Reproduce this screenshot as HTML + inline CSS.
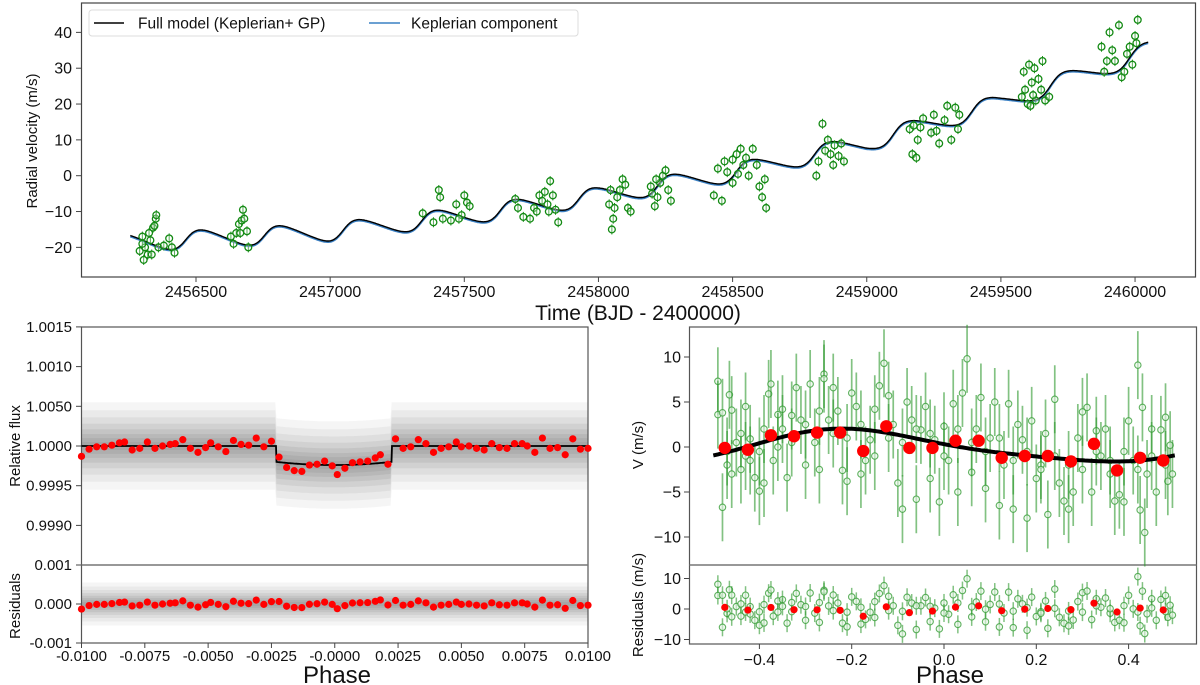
<!DOCTYPE html>
<html><head><meta charset="utf-8"><title>RV and transit fit</title>
<style>
html,body{margin:0;padding:0;background:#fff;}
svg{display:block;font-family:"Liberation Sans",Arial,sans-serif;}
</style></head>
<body>
<svg id="fig" width="1200" height="685" viewBox="0 0 1200 685" xmlns="http://www.w3.org/2000/svg">
<g id="topPanelG"></g>
<g id="blPanelG"></g>
<g id="brPanelG"></g>
</svg>
<script>
// ---------- TOP PANEL DATA ----------
const rvTimes=[2456290,2456300,2456305,2456310,2456320,2456330,2456335,2456340,2456350,2456352,2456360,2456380,2456400,2456410,2456420,2456300,2456345,2456325,
2456630,2456640,2456650,2456660,2456670,2456675,2456680,2456690,2456695,2456665,
2457345,2457385,2457405,2457410,2457420,2457450,2457470,2457490,2457500,2457510,2457520,2457480,
2457690,2457700,2457720,2457745,2457760,2457770,2457780,2457790,2457800,2457810,2457820,2457830,2457840,2457850,2457815,
2458050,2458055,2458060,2458070,2458080,2458090,2458100,2458110,2458120,2458040,2458045,
2458195,2458200,2458210,2458220,2458230,2458240,2458250,2458260,2458270,2458215,
2458430,2458445,2458460,2458470,2458480,2458500,2458515,2458530,2458540,2458550,2458560,2458575,2458590,2458600,2458610,2458620,2458625,2458500,2458520,
2458812,2458820,2458835,2458845,2458855,2458865,2458875,2458880,2458895,2458905,2458915,
2459160,2459170,2459175,2459185,2459190,2459200,2459210,2459240,2459250,2459260,2459270,2459290,2459300,2459315,2459330,2459340,2459345,
2459578,2459585,2459590,2459600,2459605,2459615,2459625,2459630,2459640,2459650,2459655,2459665,2459680,2459620,2459610,
2459875,2459885,2459895,2459905,2459915,2459925,2459940,2459950,2459960,2459970,2459980,2459990,2460000,2460010,2460005];
const rvValues=[-21,-17,-23.5,-20,-22,-18,-22,-14.5,-12,-11,-20,-19.5,-17.5,-20,-21.5,-19,-14,-16,
-17,-19,-16,-13.5,-12.5,-9.5,-12,-15.5,-20,-16,
-10.5,-13,-4,-6,-12,-12.5,-8,-11,-5.5,-7.5,-8.5,-12,
-6.5,-9,-11.5,-12,-9,-10,-5.5,-7,-4.5,-8,-1.5,-5.5,-9.5,-13,-10,
-15,-12,-9,-6,-4,-1,-2.5,-9,-10,-8,-4,
-3,-5,-8.5,-6,-2,0,1.5,-4,-7,-1,
-5.5,2,-7,4,1,-2,6,7.5,3,5,0,7.5,3,-3,-6,-1,-9,4.5,0.5,
0,4,14.5,7,10,6,3,8.5,5.5,9,4,
13,6,14,5,10,13.5,16,12,17,12.5,9,15.5,19.5,10,19,13,17,
22,29,24,20,31,26,30,21,27,24,32,21,22,22.5,19.5,
36,29,32,40,35,32,42,27.5,29,34,36,31,39,43.5,37];
const trendKnotT=[2456250,2456500,2457000,2457500,2458000,2458500,2459000,2459500,2460000,2460060];
const trendKnotV=[-19,-18,-16,-11.5,-6,0.5,9,20,33,35];
const kepPeriod=293, kepK=2.5, kepE=0.22, kepOmega=-Math.PI/2, kepT0=2456462;
const gpOffset=0.3;
const topYTicks=[-20,-10,0,10,20,30,40];
const topXTicks=[2456500,2457000,2457500,2458000,2458500,2459000,2459500,2460000];

// ---------- TRANSIT PANEL DATA ----------
const binPhase=[-0.0100,-0.0097,-0.0094,-0.0091,-0.0088,-0.0085,-0.0083,-0.0080,-0.0077,-0.0074,-0.0071,-0.0068,-0.0065,-0.0063,-0.0060,-0.0057,-0.0054,-0.0051,-0.0049,-0.0046,-0.0043,-0.0040,-0.0037,-0.0034,-0.0031,-0.0028,-0.0025,-0.0022,-0.0019,-0.0016,-0.0013,-0.0010,-0.0007,-0.0004,-0.0001,0.0001,0.0004,0.0007,0.0010,0.0013,0.0016,0.0018,0.0021,0.0024,0.0027,0.0030,0.0033,0.0036,0.0039,0.0042,0.0045,0.0048,0.0050,0.0053,0.0056,0.0059,0.0062,0.0065,0.0068,0.0071,0.0074,0.0076,0.0079,0.0082,0.0085,0.0088,0.0091,0.0094,0.0097,0.0100];
const binFlux=[0.99987,0.99996,0.99999,0.99999,1.00001,1.00004,1.00005,0.99995,0.99997,1.00005,0.99997,1.0,1.00002,1.00003,1.00008,0.99997,0.99992,0.99998,1.00004,0.99999,0.99993,1.00007,1.00002,1.00001,1.0001,0.99999,1.00006,0.99986,0.99973,0.99969,0.99968,0.99976,0.99977,0.99981,0.99975,0.99964,0.99972,0.99979,0.9998,0.99981,0.99985,0.99989,0.99977,1.00009,0.99997,0.99999,1.00008,1.00003,0.99992,0.99997,0.99999,1.00005,0.99999,1.0,0.99997,0.99995,1.00003,0.99998,0.99997,1.00003,1.00003,1.0,0.99992,1.0001,0.99997,0.99998,0.99989,1.00009,0.99996,0.99997];
const transitIngress=-0.00231, transitEgress=0.00224, transitEdgeFlux=0.9998, transitCenterFlux=0.99976;
const flYTicks=[1.0015,1.0010,1.0005,1.0000,0.9995,0.9990];
const flYLabels=["1.0015","1.0010","1.0050","1.0000","0.9995","0.9990"];
const flRTicks=[0.001,0.0,-0.001];
const flRLabels=["0.001","0.000","-0.001"];
const flXTicks=[-0.01,-0.0075,-0.005,-0.0025,0,0.0025,0.005,0.0075,0.01];
const flXLabels=["-0.0100","-0.0075","-0.0050","-0.0025","-0.0000","0.0025","0.0050","0.0075","0.0100"];

// ---------- PHASE RV PANEL DATA ----------
const phPhase=[-0.49,-0.49,-0.48,-0.48,-0.47,-0.465,-0.46,-0.46,-0.45,-0.44,-0.44,-0.43,-0.43,-0.42,-0.41,-0.40,-0.40,-0.39,-0.38,-0.375,-0.37,-0.36,-0.35,-0.35,-0.34,-0.33,-0.32,-0.31,-0.30,-0.29,-0.28,-0.27,-0.26,-0.26,-0.25,-0.24,-0.23,-0.22,-0.21,-0.20,-0.19,-0.18,-0.17,-0.16,-0.15,-0.14,-0.13,-0.12,-0.11,-0.10,-0.09,-0.08,-0.07,-0.06,-0.05,-0.04,-0.03,-0.02,-0.01,0.0,0.01,0.02,0.03,0.04,0.05,0.06,0.07,0.08,0.09,0.10,0.11,0.12,0.13,0.14,0.15,0.16,0.17,0.18,0.19,0.20,0.21,0.22,0.225,0.24,0.25,0.26,0.27,0.28,0.29,0.30,0.31,0.32,0.33,0.34,0.35,0.36,0.37,0.38,0.39,0.40,0.41,0.42,0.425,0.43,0.435,0.44,0.45,0.46,0.47,0.48,0.485,0.49,0.495,
-0.47,-0.42,-0.39,-0.36,-0.33,-0.30,-0.27,-0.24,-0.21,-0.18,-0.15,-0.12,-0.09,-0.06,-0.03,0.0,0.03,0.06,0.09,0.12,0.15,0.18,0.21,0.24,0.27,0.30,0.33,0.36,0.39,0.42,0.45,0.48];
const phV=[7.3,3.6,3.8,-6.7,-2,5.8,4.1,-3,0.5,-2.5,1.5,4.5,-1,0.9,-3.4,-4.9,-0.5,-4,5.9,7,-1.5,3.6,4.2,2,-3.4,0.5,6.6,3,-2,7,0.5,-2.5,8.1,7.6,3,6.6,4,-2.6,-3.8,6,4.5,-3,-1.5,0.8,4.2,6.8,9.3,5.7,2.5,-4,-6.9,5,3,-5.8,1.9,4.5,-3.5,0.8,-6.1,2.3,-1.5,4.8,-5,6,9.8,-2.8,2,5.5,-4.6,1,5,-6.5,-2,4.8,-6.9,2.5,0.8,-7.9,2.9,-3.5,-2,1.5,-7.5,5.3,-4,-6,-6.9,-5,1,3.9,4.4,-5,1.8,-1,2,-3,-6,-5.3,-6.1,2.9,-1.5,9.1,-7,4.4,-9.5,-3,2,-5,1.9,3.3,-3.8,0.2,-3,
-0.5,-1.5,2,0,3.5,2.5,4,1.5,1,2.5,-1,1,0.5,2,1.5,-1,2,0.5,-0.5,1,-1.5,-0.5,-2.5,-1,-2,-2.5,-0.5,-1.5,-0.5,-2.5,-1,-2];
const phBinPhase=[-0.475,-0.425,-0.375,-0.325,-0.275,-0.225,-0.175,-0.125,-0.075,-0.025,0.025,0.075,0.125,0.175,0.225,0.275,0.325,0.375,0.425,0.475];
const phBinV=[-0.1,-0.3,1.3,1.2,1.6,1.6,-0.45,2.3,-0.1,-0.1,0.7,0.7,-1.2,-1.0,-1.0,-1.6,0.35,-2.6,-1.2,-1.5];
const phModelC0=0.025, phModelA=[0.623,-0.331], phModelB=[-1.637,0.039];
const phYTicks=[10,5,0,-5,-10];
const phRTicks=[10,0,-10];
const phXTicks=[-0.4,-0.2,0.0,0.2,0.4];

// ---------- helpers ----------
const NS="http://www.w3.org/2000/svg";
function mk(parent,tag,attrs,text){const e=document.createElementNS(NS,tag);for(const k in attrs)e.setAttribute(k,attrs[k]);if(text!==undefined)e.textContent=text;parent.appendChild(e);return e;}
const minus=s=>String(s).replace(/^-/,"\u2212");

function trend(t){
  if(t<=trendKnotT[0])return trendKnotV[0];
  for(let i=1;i<trendKnotT.length;i++){if(t<=trendKnotT[i]){const f=(t-trendKnotT[i-1])/(trendKnotT[i]-trendKnotT[i-1]);return trendKnotV[i-1]+f*(trendKnotV[i]-trendKnotV[i-1]);}}
  return trendKnotV[trendKnotV.length-1];
}
function kepler(t){
  let ph=((t-kepT0)/kepPeriod)%1; if(ph<0)ph+=1;
  const M=2*Math.PI*ph;let E=M;
  for(let i=0;i<30;i++)E=E-(E-kepE*Math.sin(E)-M)/(1-kepE*Math.cos(E));
  const nu=2*Math.atan2(Math.sqrt(1+kepE)*Math.sin(E/2),Math.sqrt(1-kepE)*Math.cos(E/2));
  return kepK*(Math.cos(nu+kepOmega)+kepE*Math.cos(kepOmega));
}
function transitModel(p){
  if(p<transitIngress||p>transitEgress)return 1.0;
  const mid=(transitIngress+transitEgress)/2,half=(transitEgress-transitIngress)/2;
  const u=(p-mid)/half;
  return transitCenterFlux+(transitEdgeFlux-transitCenterFlux)*u*u;
}
function phModel(f){
  let v=phModelC0;
  for(let k=0;k<2;k++){v+=phModelA[k]*Math.cos(2*Math.PI*(k+1)*f)+phModelB[k]*Math.sin(2*Math.PI*(k+1)*f);}
  return v;
}

// ---------- TOP PANEL ----------
const topPanel=document.getElementById('topPanelG');
const TX=t=>196+(t-2456500)*0.2683;
const TY=v=>175.7-3.583*v;
mk(topPanel,'rect',{x:81.5,y:3,width:1114,height:274,fill:'none',stroke:'#444','stroke-width':1.2,});
topYTicks.forEach(v=>{
  const y=TY(v);
  mk(topPanel,'line',{x1:76,x2:81.5,y1:y,y2:y,stroke:'#444','stroke-width':1,});
  mk(topPanel,'text',{x:72,y:y+5.5,'text-anchor':'end','font-size':16,fill:'#111',},minus(v));
});
topXTicks.forEach(t=>{
  const x=TX(t);
  mk(topPanel,'line',{x1:x,x2:x,y1:277,y2:282,stroke:'#444','stroke-width':1,});
  mk(topPanel,'text',{x:x,y:297,'text-anchor':'middle','font-size':16,fill:'#111',},String(t));
});
mk(topPanel,'text',{x:638,y:320,'text-anchor':'middle','font-size':21,fill:'#111',},'Time (BJD - 2400000)');
mk(topPanel,'text',{x:37,y:141,'text-anchor':'middle','font-size':15,fill:'#111',transform:'rotate(-90 37 141)',},'Radial velocity (m/s)');
let dBlue='',dBlack='';
for(let t=2456255;t<=2460050;t+=2){
  const k=kepler(t)+trend(t);
  dBlue+=(dBlue?'L':'M')+TX(t).toFixed(1)+','+TY(k).toFixed(1);
  dBlack+=(dBlack?'L':'M')+TX(t).toFixed(1)+','+TY(k+gpOffset).toFixed(1);
}
mk(topPanel,'path',{d:dBlue,fill:'none',stroke:'#3a80c4','stroke-width':1.8,});
mk(topPanel,'path',{d:dBlack,fill:'none',stroke:'#000','stroke-width':1.4,});
rvTimes.forEach((t,i)=>{
  const x=TX(t),y=TY(rvValues[i]);
  const g=mk(topPanel,'g',{});
  
  
  mk(g,'line',{x1:x,x2:x,y1:y-5,y2:y+5,stroke:'#138a13','stroke-width':1});
  mk(g,'circle',{cx:x,cy:y,r:3.4,fill:'#fff','fill-opacity':0.3,stroke:'#138a13','stroke-width':1.3});
});
const lg=mk(topPanel,'g',{});
mk(lg,'rect',{x:89,y:10,width:489,height:26,rx:3,fill:'#fff','fill-opacity':0.85,stroke:'#dcdcdc','stroke-width':1});
mk(lg,'line',{x1:94,x2:124,y1:23,y2:23,stroke:'#000','stroke-width':1.6,});
mk(lg,'text',{x:138,y:28.5,'font-size':15.5,fill:'#111',},'Full model (Keplerian+ GP)');
mk(lg,'line',{x1:369,x2:400,y1:23,y2:23,stroke:'#3a80c4','stroke-width':1.6,});
mk(lg,'text',{x:411,y:28.5,'font-size':15.5,fill:'#111',},'Keplerian component');

// ---------- TRANSIT PANEL ----------
const blPanel=document.getElementById('blPanelG');
const FX=p=>81.5+(p+0.01)*25325;
const FY=f=>446-(f-1)*79400;
const RY=r=>604-r*39000;
function band(fy,off,ymin,ymax){
  let up='',lo='';const pts=[];
  for(let p=-0.01;p<=0.01001;p+=0.00005){pts.push(p);}
  pts.forEach((p,i)=>{up+=(i?'L':'M')+FX(p).toFixed(1)+','+Math.max(ymin,fy(p,off)).toFixed(1);});
  for(let i=pts.length-1;i>=0;i--){lo+='L'+FX(pts[i]).toFixed(1)+','+Math.min(ymax,fy(pts[i],-off)).toFixed(1);}
  return up+lo+'Z';
}
const fmain=(p,o)=>FY(transitModel(p)+o);
const fres=(p,o)=>RY(o);
[[0.00055,0.05],[0.00045,0.06],[0.00036,0.07],[0.00028,0.08],[0.00021,0.09],[0.00015,0.09],[0.0001,0.08],[0.00005,0.07]].forEach(b=>{
  mk(blPanel,'path',{d:band(fmain,b[0],327,565),fill:'#444','fill-opacity':b[1],stroke:'none',});
  mk(blPanel,'path',{d:band(fres,b[0],565,643),fill:'#444','fill-opacity':b[1],stroke:'none',});
});
mk(blPanel,'rect',{x:81.5,y:327,width:506.5,height:316,fill:'none',stroke:'#555','stroke-width':1.2,});
mk(blPanel,'line',{x1:81.5,x2:588,y1:565,y2:565,stroke:'#777','stroke-width':1.5,});
flYTicks.forEach((v,i)=>{
  const y=FY(v);
  mk(blPanel,'line',{x1:76,x2:81.5,y1:y,y2:y,stroke:'#444','stroke-width':1,});
  mk(blPanel,'text',{x:72,y:y+5,'text-anchor':'end','font-size':15,fill:'#111',},flYLabels[i]);
});
flRTicks.forEach((v,i)=>{
  const y=RY(v);
  mk(blPanel,'line',{x1:76,x2:81.5,y1:y,y2:y,stroke:'#444','stroke-width':1,});
  mk(blPanel,'text',{x:72,y:y+5,'text-anchor':'end','font-size':15,fill:'#111',},flRLabels[i]);
});
flXTicks.forEach((p,i)=>{
  const x=FX(p);
  mk(blPanel,'line',{x1:x,x2:x,y1:643,y2:648,stroke:'#444','stroke-width':1,});
  mk(blPanel,'text',{x:x,y:661,'text-anchor':'middle','font-size':15,fill:'#111',},flXLabels[i]);
});
mk(blPanel,'text',{x:337,y:683,'text-anchor':'middle','font-size':24,fill:'#111',},'Phase');
mk(blPanel,'text',{x:20,y:446,'text-anchor':'middle','font-size':15,fill:'#111',transform:'rotate(-90 20 446)',},'Relative flux');
mk(blPanel,'text',{x:20,y:606,'text-anchor':'middle','font-size':15,fill:'#111',transform:'rotate(-90 20 606)',},'Residuals');
let dTr='';
for(let p=-0.01;p<=0.01001;p+=0.00002){dTr+=(dTr?'L':'M')+FX(p).toFixed(1)+','+FY(transitModel(p)).toFixed(1);}
mk(blPanel,'path',{d:dTr,fill:'none',stroke:'#000','stroke-width':1.8,});
binPhase.forEach((p,i)=>{
  const c=mk(blPanel,'circle',{cx:FX(p),cy:FY(binFlux[i]),r:3.6,fill:'#ff0000'});
  
  
  const r=mk(blPanel,'circle',{cx:FX(p),cy:RY(binFlux[i]-transitModel(p)),r:3.6,fill:'#ff0000'});
  
  
});

// ---------- PHASE RV PANEL ----------
const brPanel=document.getElementById('brPanelG');
const PX=f=>944+f*461.5;
const PY=v=>447-9*v;
const PRY=r=>609-3.05*r;
mk(brPanel,'rect',{x:689.5,y:327,width:507,height:317,fill:'none',stroke:'#555','stroke-width':1.2,});
mk(brPanel,'line',{x1:689.5,x2:1196.5,y1:565,y2:565,stroke:'#777','stroke-width':1.5,});
phPhase.forEach((f,i)=>{
  const x=PX(f),y=PY(phV[i]);
  const g=mk(brPanel,'g',{});
  
  
  mk(g,'line',{x1:x,x2:x,y1:y-34,y2:y+34,stroke:'#2f9a2f','stroke-opacity':0.6,'stroke-width':1.7});
  mk(g,'circle',{cx:x,cy:y,r:3.2,fill:'#e8f5e8','fill-opacity':0.6,stroke:'#3a9f3a','stroke-opacity':0.8,'stroke-width':1.1});
  const res=phV[i]-phModel(f);
  const y2=PRY(res);
  const g2=mk(brPanel,'g',{});
  
  
  mk(g2,'line',{x1:x,x2:x,y1:y2-9,y2:y2+9,stroke:'#2f9a2f','stroke-opacity':0.6,'stroke-width':1.5});
  mk(g2,'circle',{cx:x,cy:y2,r:3.2,fill:'#e8f5e8','fill-opacity':0.6,stroke:'#3a9f3a','stroke-opacity':0.8,'stroke-width':1.1});
});
let dPh='';
for(let f=-0.5;f<=0.5001;f+=0.005){dPh+=(dPh?'L':'M')+PX(f).toFixed(1)+','+PY(phModel(f)).toFixed(1);}
mk(brPanel,'path',{d:dPh,fill:'none',stroke:'#000','stroke-width':4,});
phBinPhase.forEach((f,i)=>{
  const c=mk(brPanel,'circle',{cx:PX(f),cy:PY(phBinV[i]),r:6.2,fill:'#ff0000'});
  
  
  const r=mk(brPanel,'circle',{cx:PX(f),cy:PRY(phBinV[i]-phModel(f)),r:3.6,fill:'#ff0000'});
  
  
});
phYTicks.forEach(v=>{
  const y=PY(v);
  mk(brPanel,'line',{x1:684,x2:689.5,y1:y,y2:y,stroke:'#444','stroke-width':1,});
  mk(brPanel,'text',{x:681,y:y+5.5,'text-anchor':'end','font-size':16,fill:'#111',},minus(v));
});
phRTicks.forEach(v=>{
  const y=PRY(v);
  mk(brPanel,'line',{x1:684,x2:689.5,y1:y,y2:y,stroke:'#444','stroke-width':1,});
  mk(brPanel,'text',{x:681,y:y+5.5,'text-anchor':'end','font-size':16,fill:'#111',},minus(v));
});
phXTicks.forEach(f=>{
  const x=PX(f);
  mk(brPanel,'line',{x1:x,x2:x,y1:644,y2:649,stroke:'#444','stroke-width':1,});
  mk(brPanel,'text',{x:x,y:665,'text-anchor':'middle','font-size':16,fill:'#111',},minus(f.toFixed(1)));
});
mk(brPanel,'text',{x:950,y:683,'text-anchor':'middle','font-size':24,fill:'#111',},'Phase');
mk(brPanel,'text',{x:643,y:445,'text-anchor':'middle','font-size':15,fill:'#111',transform:'rotate(-90 643 445)',},'V (m/s)');
mk(brPanel,'text',{x:643,y:605,'text-anchor':'middle','font-size':15,fill:'#111',transform:'rotate(-90 643 605)',},'Residuals (m/s)');
</script>
</body></html>
